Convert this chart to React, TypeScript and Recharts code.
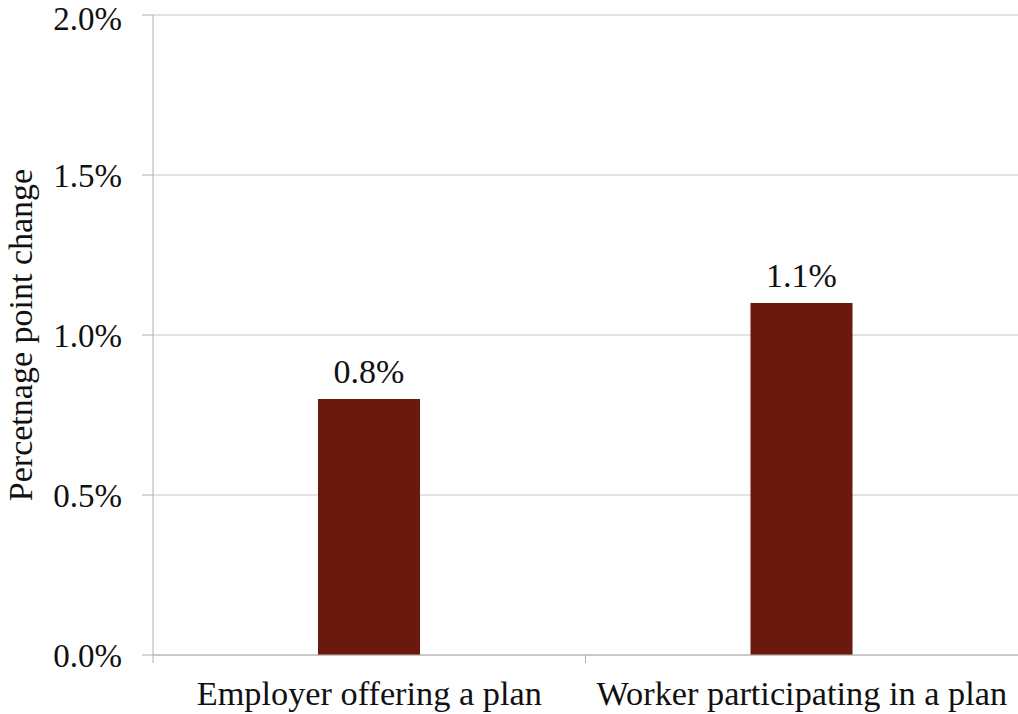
import React from "react";
import { BarChart, Bar, XAxis, YAxis, CartesianGrid, LabelList } from "recharts";

const categories = ["Employer offering a plan", "Worker participating in a plan"];
const changeValues = [0.008, 0.011];
const yTicks = [0, 0.005, 0.01, 0.015, 0.02];

const data = categories.map((name, i) => ({ name, value: changeValues[i] }));

const FONT = '"Liberation Serif", "Times New Roman", serif';
const pct = (v: number) => `${(v * 100).toFixed(1)}%`;

const CategoryTick = (props: any) => {
  const { x, y, payload } = props;
  const half = payload && typeof payload.offset === "number" ? payload.offset : 216;
  return (
    <g>
      <line x1={x - half} y1={y - 8} x2={x - half} y2={y} stroke="#b0b0b0" strokeWidth={1} />
      <text x={x} y={y + 42} textAnchor="middle" fontFamily={FONT} fontSize={34.3} fill="#111">
        {payload.value}
      </text>
    </g>
  );
};

export default function App() {
  return (
    <div style={{ position: "absolute", left: 0, top: 0, width: 1018, height: 714, background: "#fff" }}>
      <BarChart
        width={1018}
        height={714}
        data={data}
        margin={{ top: 15, right: 0, bottom: 0, left: 0 }}
        barCategoryGap={0}
      >
        <CartesianGrid vertical={false} stroke="#c8c8c8" />
        <XAxis
          dataKey="name"
          height={59}
          axisLine={{ stroke: "#b0b0b0" }}
          tickLine={false}
          tick={<CategoryTick />}
          interval={0}
        />
        <YAxis
          width={153}
          domain={[0, 0.02]}
          ticks={yTicks}
          tickFormatter={pct}
          axisLine={{ stroke: "#b0b0b0" }}
          tickLine={{ stroke: "#b0b0b0" }}
          tickSize={11}
          tickMargin={20}
          tick={{ fontFamily: FONT, fontSize: 33, fill: "#111" }}
          label={{
            value: "Percetnage point change",
            angle: -90,
            position: "center",
            dx: -57,
            style: { fontFamily: FONT, fontSize: 34, fill: "#111", textAnchor: "middle" },
          }}
        />
        <Bar dataKey="value" fill="#6a190e" barSize={102} isAnimationActive={false}>
          <LabelList
            dataKey="value"
            position="top"
            offset={16}
            formatter={(v: any) => pct(Number(v))}
            style={{ fontFamily: FONT, fontSize: 34, fill: "#111" }}
          />
        </Bar>
      </BarChart>
    </div>
  );
}
